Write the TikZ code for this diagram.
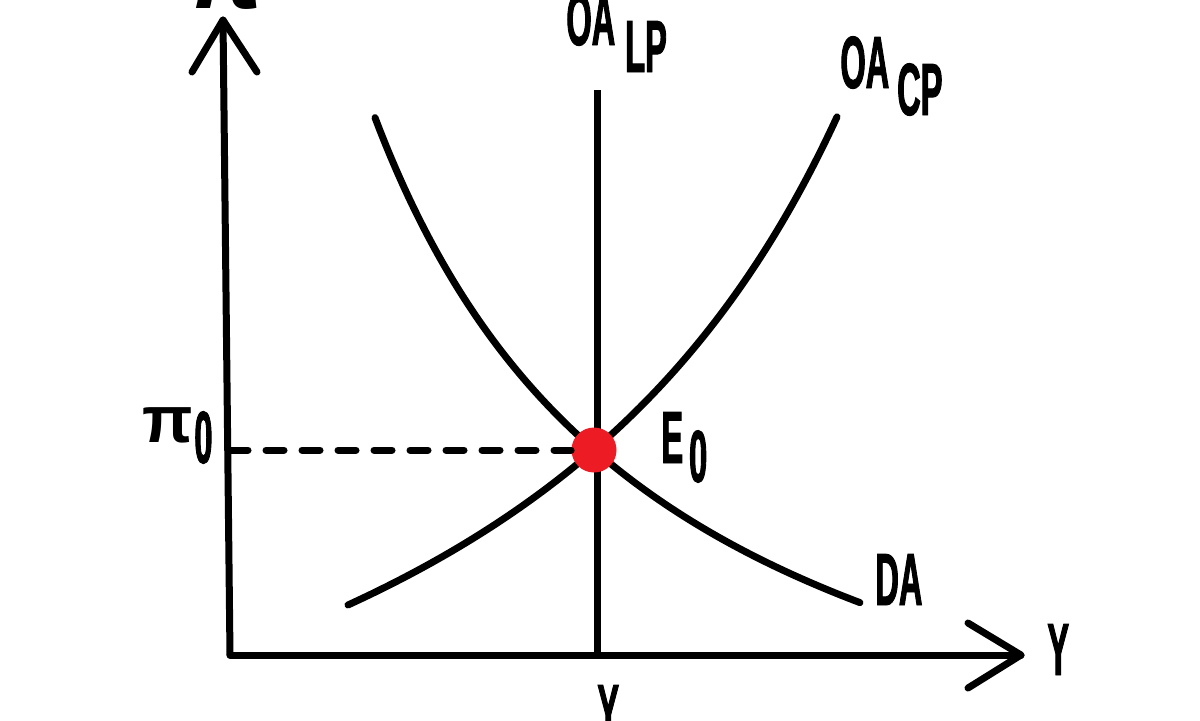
\documentclass[tikz,border=0pt]{standalone}
\usepackage{fontspec}
\newfontfamily\cond[FakeStretch=0.44,FakeBold=1.2]{Liberation Sans}
\newfontfamily\pifont{Liberation Sans}
\begin{document}
\begin{tikzpicture}[x=0.5pt,y=-0.5pt,
  ln/.style={line width=3.5pt,line cap=round,line join=round},
  lbl/.style={inner sep=0pt,anchor=base west,font=\cond\bfseries\fontsize{37}{37}\selectfont},
  pilbl/.style={inner sep=0pt,font=\pifont\bfseries\fontsize{33}{33}\selectfont}]
\useasboundingbox (0,0) rectangle (1200,720);
\clip (0,0) rectangle (1200,720);
\fill[white] (0,0) rectangle (1200,720);
% axes
\coordinate (O) at (230,655);
\coordinate (ytip) at (223,20);
\coordinate (xtip) at (1021,655);
\draw[ln] (O) -- (ytip);
\draw[ln] (192,72) -- (ytip) -- (257,72);
\draw[ln] (O) -- (xtip);
\draw[ln] (968,623) -- (xtip) -- (968,688);
% long-run supply
\coordinate (lpTop) at (597,90);
\coordinate (lpBot) at (597,655);
\draw[line width=3.5pt] (lpTop) -- (lpBot);
% DA
\draw[ln] plot[domain=3.75:8.60,samples=100,smooth] ({100*\x},{100*(8.99-23.16/(\x-0.786))});
% OA CP
\draw[ln] plot[domain=3.48:8.37,samples=100,smooth] ({100*\x},{100*(10.202-37.578/(12.53-\x))});
% dashed + equilibrium
\coordinate (pi0) at (230,450);
\node[circle,fill={rgb,255:red,237;green,28;blue,36},minimum size=22.5pt,inner sep=0pt] (E) at (594,450) {};
\draw[line width=3.5pt,line cap=round,dash pattern=on 9pt off 9pt] (pi0) -- (E.west);
% labels
\node[lbl] (oalp) at (566,45) {OA\hspace{5pt}\raisebox{-13.5pt}{LP}};
\node[lbl] (oacp) at (840,88) {OA\hspace{4pt}\raisebox{-13.5pt}{CP}};
\node[lbl] (e0) at (661,463) {E\hspace{3pt}\raisebox{-9.5pt}{0}};
\node[lbl] (da) at (875,605) {DA};
\node[lbl] (y) at (1047,675) {Y};
\node[lbl] (y0) at (597,736) {Y\hspace{3pt}\raisebox{-20pt}{0}};
\node[pilbl,anchor=base west] (pi) at (142,442) {π};
\node[lbl] (pisub) at (194,463) {0};
\node[pilbl,anchor=base,font=\pifont\bfseries\fontsize{50}{50}\selectfont] (pitop) at (224,8) {π};
\end{tikzpicture}
\end{document}
